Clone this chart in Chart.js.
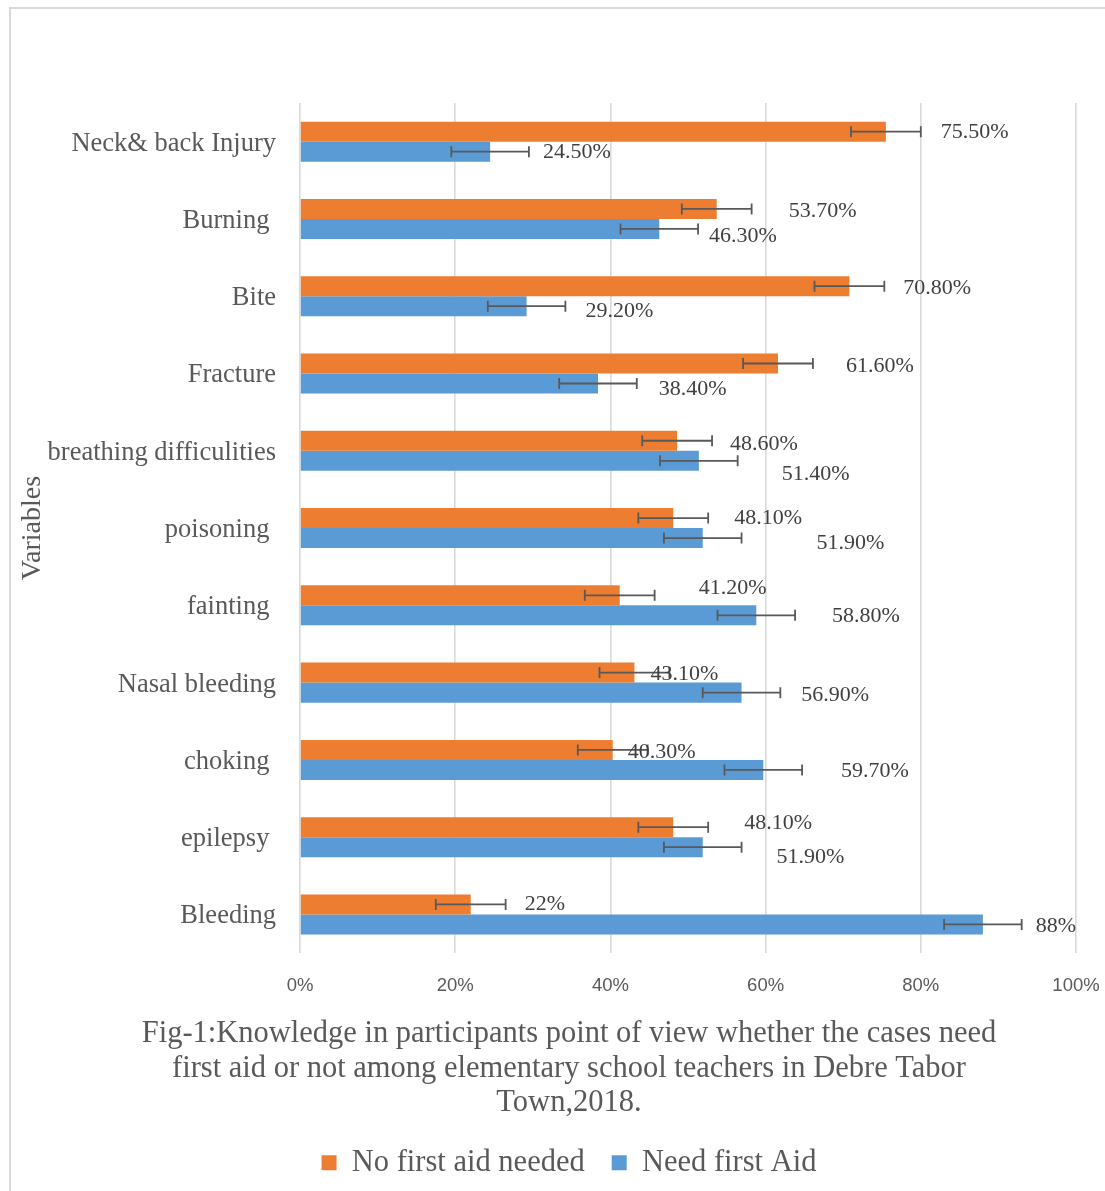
<!DOCTYPE html>
<html>
<head>
<meta charset="utf-8">
<script src="https://cdn.jsdelivr.net/npm/chart.js@4.4.1/dist/chart.umd.min.js"></script>
<style>
  html, body { margin: 0; padding: 0; background: #fff; overflow: hidden; }
  #wrap { position: relative; width: 1105px; height: 1191px; }
  #frame { position: absolute; left: 9px; top: 7px; width: 1200px; height: 1300px;
           border-left: 2px solid #d9d9d9; border-top: 2px solid #d9d9d9; pointer-events: none; }
</style>
</head>
<body>
<div id="wrap">
  <canvas id="chart" width="1105" height="1191"></canvas>
  <div id="frame"></div>
</div>
<script>
// categories, top to bottom as in the figure
const categories = ["Neck& back Injury", "Burning ", "Bite", "Fracture", "breathing difficulities",
    "poisoning ", "fainting ", "Nasal bleeding", "choking ", "epilepsy ", "Bleeding"];

// percent of teachers
const noFirstAid = [75.5, 53.7, 70.8, 61.6, 48.6, 48.1, 41.2, 43.1, 40.3, 48.1, 22];
const needFirstAid = [24.5, 46.3, 29.2, 38.4, 51.4, 51.9, 58.8, 56.9, 59.7, 51.9, 88];

// error bar half-widths (percentage points)
const noFirstAidErr = [4.5, 4.5, 4.5, 4.5, 4.5, 4.5, 4.5, 4.5, 4.5, 4.5, 4.5];
const needFirstAidErr = [5, 5, 5, 5, 5, 5, 5, 5, 5, 5, 5];

const xTicks = [0, 20, 40, 60, 80, 100];

// label nudges in px [dx, dy] (Excel labels were dragged by hand)
const labelNudge = [
    [[8, 1], [25, 2], [7, 2], [21, 3], [6, 3], [14, 0], [32, -7], [-31, 2], [-32, 2], [24, -4], [7, 0]],
    [[2, 1], [-1, 7], [8, 5], [10, 6], [32, 13], [63, 5], [25, 1], [9, 3], [27, 1], [23, 10], [2, 2]]
];
const errors = [noFirstAidErr, needFirstAidErr];

const serif = "'Liberation Serif', 'Times New Roman', serif";

function fmt(v) {
    return Number.isInteger(v) ? v + "%" : v.toFixed(2) + "%";
}

const errorBars = {
    id: "errorBars",
    afterDatasetsDraw(chart) {
        const ctx = chart.ctx;
        const x = chart.scales.x;
        ctx.save();
        chart.data.datasets.forEach((ds, di) => {
            const meta = chart.getDatasetMeta(di);
            meta.data.forEach((bar, i) => {
                const v = ds.data[i], e = errors[di][i];
                const x0 = x.getPixelForValue(v - e), x1 = x.getPixelForValue(v + e);
                const y = bar.y;
                ctx.strokeStyle = "#595959";
                ctx.lineWidth = 1.8;
                ctx.beginPath();
                ctx.moveTo(x0, y); ctx.lineTo(x1, y);
                ctx.moveTo(x0, y - 5.5); ctx.lineTo(x0, y + 5.5);
                ctx.moveTo(x1, y - 5.5); ctx.lineTo(x1, y + 5.5);
                ctx.stroke();

                // value label
                const n = labelNudge[di][i];
                ctx.font = "22px " + serif;
                ctx.fillStyle = "#404040";
                ctx.textAlign = "left";
                ctx.textBaseline = "middle";
                ctx.fillText(fmt(v), x1 + 12 + n[0], y + n[1]);
            });
        });
        ctx.restore();
    }
};

// caption and legend are centred on the figure, not on the plot
const shiftBottomBoxes = {
    id: "shiftBottomBoxes",
    afterLayout(chart) {
        if (chart.titleBlock) chart.titleBlock.left += 52;
        if (chart.legend) chart.legend.left += 52;
    }
};

new Chart(document.getElementById("chart"), {
    type: "bar",
    data: {
        labels: categories,
        datasets: [
            { label: "No first aid needed", data: noFirstAid, backgroundColor: "#ED7D31" },
            { label: "Need first Aid", data: needFirstAid, backgroundColor: "#5B9BD5" }
        ]
    },
    options: {
        indexAxis: "y",
        responsive: false,
        animation: false,
        categoryPercentage: 0.518,
        barPercentage: 1,
        layout: { padding: { top: 103, left: 10, right: 29, bottom: 3 } },
        scales: {
            x: {
                min: 0, max: 100,
                afterBuildTicks: s => { s.ticks = xTicks.map(v => ({ value: v })); },
                afterFit: s => { s.height = 57; s.paddingLeft = 0; s.paddingRight = 0; },
                ticks: {
                    callback: v => v + "%",
                    color: "#595959",
                    padding: 22,
                    font: { family: "'Liberation Sans', Arial, sans-serif", size: 18.5 }
                },
                grid: { color: "#d9d9d9", lineWidth: 1.6, drawTicks: false },
                border: { display: false }
            },
            y: {
                afterFit: s => { s.width = 300 - 10; },
                ticks: {
                    color: "#595959",
                    padding: 24,
                    labelOffset: 2,
                    font: { family: serif, size: 26.5 }
                },
                grid: { display: false, drawTicks: false },
                border: { display: false },
                title: {
                    display: true,
                    text: "Variables",
                    color: "#595959",
                    padding: { top: 6, bottom: 0 },
                    font: { family: serif, size: 28, lineHeight: 1.2 }
                }
            }
        },
        plugins: {
            title: {
                display: true,
                position: "bottom",
                weight: 500,
                text: ["Fig-1:Knowledge in participants point of view whether the cases need",
                       "first aid or not among elementary school teachers in Debre Tabor",
                       "Town,2018."],
                color: "#595959",
                padding: { top: 7, bottom: 0 },
                font: { family: serif, size: 30.5, weight: "normal", lineHeight: 1.13 }
            },
            legend: {
                position: "bottom",
                labels: {
                    color: "#595959",
                    boxWidth: 15,
                    boxHeight: 15,
                    padding: 27,
                    font: { family: serif, size: 30.5 }
                }
            },
            tooltip: { enabled: false }
        }
    },
    plugins: [errorBars, shiftBottomBoxes]
});
</script>
</body>
</html>
